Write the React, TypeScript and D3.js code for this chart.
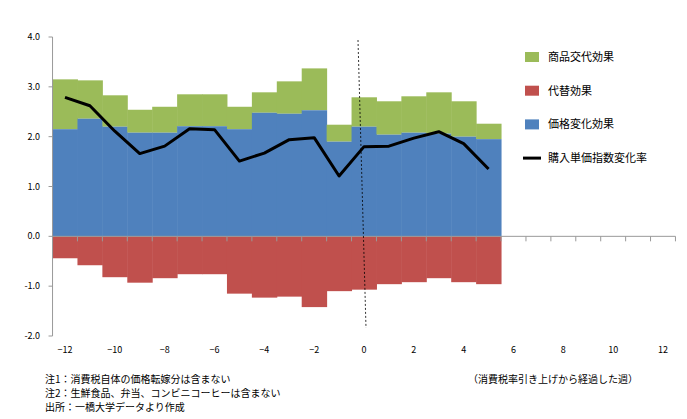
import React from 'react';
import * as d3 from 'd3';

const weeks = [-12, -11, -10, -9, -8, -7, -6, -5, -4, -3, -2, -1, 0, 1, 2, 3, 4, 5];
const priceEffect = [2.15, 2.36, 2.2, 2.08, 2.08, 2.21, 2.21, 2.15, 2.48, 2.46, 2.53, 1.9, 2.2, 2.04, 2.08, 2.06, 2.0, 1.95];
const totalTop = [3.15, 3.13, 2.83, 2.54, 2.6, 2.85, 2.85, 2.6, 2.89, 3.11, 3.37, 2.24, 2.79, 2.71, 2.81, 2.89, 2.71, 2.26];
const substitution = [-0.44, -0.58, -0.82, -0.93, -0.84, -0.76, -0.76, -1.15, -1.23, -1.21, -1.42, -1.1, -1.07, -0.96, -0.92, -0.84, -0.92, -0.96];
const indexChange = [2.79, 2.62, 2.11, 1.66, 1.81, 2.16, 2.14, 1.51, 1.67, 1.94, 1.98, 1.21, 1.8, 1.81, 1.97, 2.1, 1.86, 1.35];
const xTicks = [-12, -10, -8, -6, -4, -2, 0, 2, 4, 6, 8, 10, 12];
const yTicks = [-2, -1, 0, 1, 2, 3, 4];
const legend = [
  { label: '商品交代効果', color: '#9bbb59', line: false },
  { label: '代替効果', color: '#c0504d', line: false },
  { label: '価格変化効果', color: '#4f81bd', line: false },
  { label: '購入単価指数変化率', color: '#000', line: true },
];
const notes = ['注1：消費税自体の価格転嫁分は含まない', '注2：生鮮食品、弁当、コンビニコーヒーは含まない', '出所：一橋大学データより作成'];

const App = () => {
  const x = d3.scaleLinear().domain([-12, 12]).range([65, 663]);
  const y = d3.scaleLinear().domain([-2, 4]).range([336, 37]);
  const w = x(1) - x(0);
  const line = d3.line<number>().x((_, i) => x(weeks[i])).y(d => y(d));
  const font = '"Noto Sans CJK JP", sans-serif';
  return (
    <svg width={687} height={419} style={{ position: 'absolute', left: 0, top: 0, background: '#fff' }} fontFamily={font}>
      {weeks.map((wk, i) => (
        <g key={wk}>
          <rect x={x(wk) - w / 2} width={w + 0.5} y={y(totalTop[i])} height={y(priceEffect[i]) - y(totalTop[i])} fill="#9bbb59" />
          <rect x={x(wk) - w / 2} width={w + 0.5} y={y(priceEffect[i])} height={y(0) - y(priceEffect[i])} fill="#4f81bd" />
          <rect x={x(wk) - w / 2} width={w + 0.5} y={y(0)} height={y(substitution[i]) - y(0)} fill="#c0504d" />
        </g>
      ))}
      <line x1={x(-12.5)} x2={x(12.5)} y1={y(0)} y2={y(0)} stroke="#999" />
      {d3.range(-12, 13).map(v => (
        <line key={v} x1={x(v) + w / 2} x2={x(v) + w / 2} y1={y(0)} y2={y(0) + 5} stroke="#999" />
      ))}
      <line x1={x(-12.5)} x2={x(-12.5)} y1={y(4)} y2={y(-2)} stroke="#999" />
      {yTicks.map(t => (
        <g key={t}>
          <line x1={x(-12.5) - 4} x2={x(-12.5)} y1={y(t)} y2={y(t)} stroke="#999" />
          <text x={40} y={y(t) + 3} fontSize={9} textAnchor="end">{t.toFixed(1)}</text>
        </g>
      ))}
      {xTicks.map(t => (
        <text key={t} x={x(t)} y={353} fontSize={9} textAnchor="middle">{t < 0 ? '−' + -t : t}</text>
      ))}
      <path d={line(indexChange) || ''} fill="none" stroke="#000" strokeWidth={3} strokeLinejoin="round" />
      <line x1={358} y1={40} x2={366} y2={328} stroke="#000" strokeWidth={0.8} strokeDasharray="2,2" />
      {legend.map((l, i) => (
        <g key={l.label} transform={`translate(523,${57 + i * 33.7})`}>
          {l.line
            ? <line x1={0} x2={18} y1={0} y2={0} stroke="#000" strokeWidth={3} />
            : <rect x={2} y={-5} width={14} height={10} fill={l.color} />}
          <text x={25} y={4} fontSize={11}>{l.label}</text>
        </g>
      ))}
      <text x={468} y={383} fontSize={10}>（消費税率引き上げから経過した週）</text>
      {notes.map((n, i) => (
        <text key={n} x={45} y={383 + i * 14} fontSize={10}>{n}</text>
      ))}
    </svg>
  );
};

export default App;
